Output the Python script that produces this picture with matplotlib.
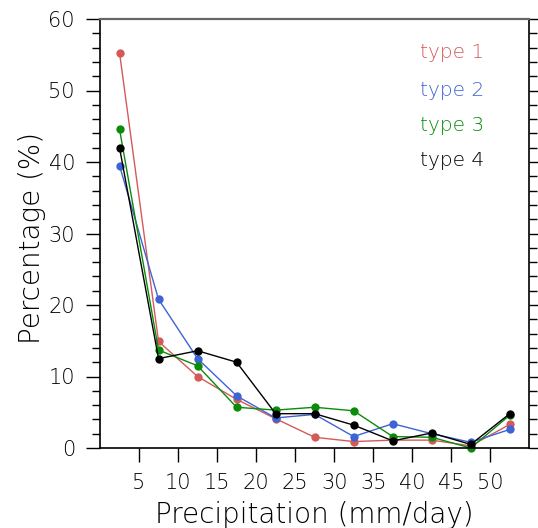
import matplotlib
matplotlib.use("Agg")
import matplotlib.pyplot as plt
from matplotlib.ticker import MultipleLocator

bins = [2.5, 7.5, 12.5, 17.5, 22.5, 27.5, 32.5, 37.5, 42.5, 47.5, 52.5]
type1 = [55.3, 14.9, 10.0, 6.8, 4.1, 1.5, 0.9, 1.1, 1.1, 0.3, 3.3]
type2 = [39.5, 20.8, 12.5, 7.3, 4.2, 4.7, 1.6, 3.4, 2.0, 0.8, 2.6]
type3 = [44.6, 13.7, 11.5, 5.7, 5.3, 5.7, 5.2, 1.6, 1.5, 0.0, 4.6]
type4 = [42.0, 12.5, 13.6, 12.0, 4.8, 4.8, 3.2, 1.0, 2.1, 0.5, 4.8]
labels = ["type 1", "type 2", "type 3", "type 4"]
colors = ["#d45a5a", "#3e64d4", "#0a8c0a", "#000000"]
xticks = [5, 10, 15, 20, 25, 30, 35, 40, 45, 50]
yticks = [0, 10, 20, 30, 40, 50, 60]

plt.rcParams['font.family'] = ['DejaVu Sans']
plt.rcParams['font.weight'] = 'light'
plt.rcParams['axes.labelweight'] = 'light'
fig = plt.figure(figsize=(5.38, 5.28), dpi=100)
ax = fig.add_axes([100/538, 80/528, 429.3/538, 429/528])

series = [type1, type2, type3, type4]
for s, c in zip(series, colors):
    ax.plot(bins, s, color=c, lw=1.0, marker='o', markersize=6,
            markeredgewidth=0, clip_on=False)

ax.set_xlim(0, 55)
ax.set_ylim(0, 60)
ax.set_xticks(xticks)
ax.set_xticklabels([str(v) for v in xticks])
ax.set_yticks(yticks)
ax.set_yticklabels([str(v) for v in yticks])
ax.yaxis.set_minor_locator(MultipleLocator(2))

ax.tick_params(axis='x', which='major', direction='out', length=10, width=1,
               labelsize=15, pad=8, top=False)
ax.tick_params(axis='y', which='major', direction='out', length=10, width=1,
               labelsize=15, pad=8, right=True)
ax.tick_params(axis='y', which='minor', direction='out', length=6, width=1,
               right=True)
ax.tick_params(axis='x', which='minor', bottom=False, top=False)

for sp in ax.spines.values():
    sp.set_linewidth(1.2)
ax.spines['top'].set_color('#666666')
ax.spines['top'].set_linewidth(1.6)

ax.set_xlabel("Precipitation (mm/day)", fontsize=20, va='center')
ax.set_ylabel("Percentage (%)", fontsize=20, va='center')
ax.xaxis.set_label_coords(0.5, (448 - 515) / 429.0)
ax.yaxis.set_label_coords((32 - 100) / 429.3, 0.49)

ys = [55.3, 50.0, 45.1, 40.2]
for lab, c, y in zip(labels, colors, ys):
    ax.text(49.2, y, lab, color=c, fontsize=14.5, ha='right', va='center')

fig.savefig("out.png", dpi=100)
